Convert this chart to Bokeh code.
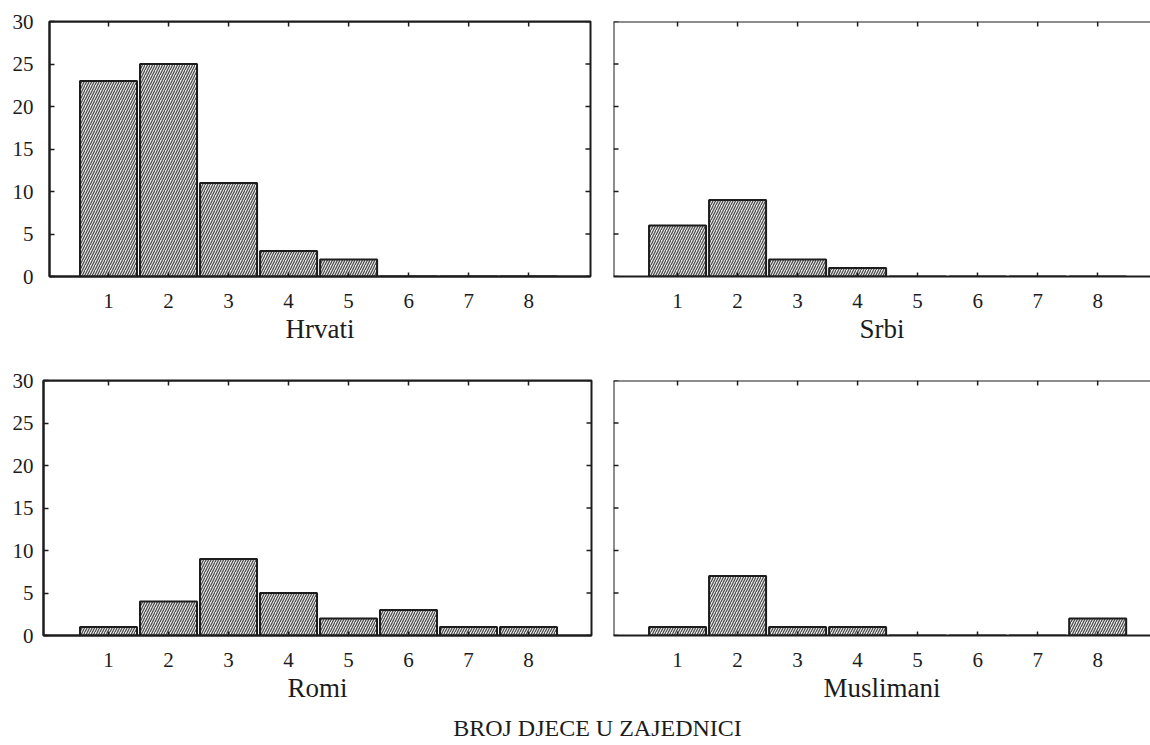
import math
from bokeh.plotting import figure
from bokeh.models import Range1d, FixedTicker, Span, Label
from bokeh.layouts import column, row
from bokeh.embed import file_html
from bokeh.resources import INLINE

# ---- data ----
children = [1, 2, 3, 4, 5, 6, 7, 8]
hrvati = [23, 25, 11, 3, 2, 0, 0, 0]
srbi = [6, 9, 2, 1, 0, 0, 0, 0]
romi = [1, 4, 9, 5, 2, 3, 1, 1]
muslimani = [1, 7, 1, 1, 0, 0, 0, 2]
y_ticks = [0, 5, 10, 15, 20, 25, 30]
group_names = ["Hrvati", "Srbi", "Romi", "Muslimani"]
x_title = "BROJ DJECE U ZAJEDNICI"

FONT = "Liberation Serif"
INK = "#1c1c1c"


def panel(name, vals, xr, fw, fh, bl, br, bt, bb, left_panel, ystand):
    p = figure(x_range=Range1d(*xr), y_range=Range1d(y_ticks[0], y_ticks[-1]),
               frame_width=fw, frame_height=fh,
               min_border_left=bl, min_border_right=br,
               min_border_top=bt, min_border_bottom=bb,
               y_axis_location="left" if left_panel else None,
               output_backend="svg", toolbar_location=None)
    p.grid.visible = False
    p.background_fill_color = "white"
    p.border_fill_color = "white"

    p.vbar(x=children, top=vals, bottom=0, width=0.95,
           fill_color="#e8e8e8", line_color=INK, line_width=2,
           hatch_pattern="/", hatch_color="#484848", hatch_scale=5,
           hatch_weight=1.2)

    xa = p.xaxis[0]
    xa.ticker = FixedTicker(ticks=children)
    xa.axis_line_width = 2
    xa.axis_line_color = INK
    xa.major_tick_in = 4
    xa.major_tick_out = 0
    xa.major_tick_line_width = 1.5
    xa.major_tick_line_color = INK
    xa.minor_tick_in = 0
    xa.minor_tick_out = 0
    xa.major_label_text_font = FONT
    xa.major_label_text_font_size = "21px"
    xa.major_label_text_color = INK
    xa.major_label_standoff = 17
    xa.axis_label = name
    xa.axis_label_text_font = FONT
    xa.axis_label_text_font_size = "27px"
    xa.axis_label_text_font_style = "normal"
    xa.axis_label_text_color = INK
    xa.axis_label_standoff = 3

    # top edge of the frame with inward ticks
    p.add_layout(Span(location=y_ticks[-1], dimension="width",
                      line_color=INK, line_width=2))
    p.ray(x=children, y=[y_ticks[-1]] * len(children), length=5,
          length_units="screen", angle=-math.pi / 2,
          line_color=INK, line_width=1.5)

    if left_panel:
        p.outline_line_color = INK
        p.outline_line_width = 2
        ya = p.yaxis[0]
        ya.ticker = FixedTicker(ticks=y_ticks)
        ya.axis_line_width = 2
        ya.axis_line_color = INK
        ya.major_tick_in = 5
        ya.major_tick_out = 0
        ya.major_tick_line_width = 1.5
        ya.major_tick_line_color = INK
        ya.minor_tick_in = 0
        ya.minor_tick_out = 0
        ya.major_label_text_font = FONT
        ya.major_label_text_font_size = "21px"
        ya.major_label_text_color = INK
        ya.major_label_standoff = ystand
        # right edge ticks
        p.ray(x=[xr[1]] * len(y_ticks), y=y_ticks, length=5,
              length_units="screen", angle=math.pi,
              line_color=INK, line_width=1.5)
    else:
        p.outline_line_color = None
        p.add_layout(Span(location=xr[0], dimension="height",
                          line_color=INK, line_width=2))
        p.ray(x=[xr[0]] * len(y_ticks), y=y_ticks, length=5,
              length_units="screen", angle=0,
              line_color=INK, line_width=1.5)
    return p


pA = panel(group_names[0], hrvati, (0.017, 9.03), 541, 255, 49, 11, 21, 91, True, 16)
pB = panel(group_names[1], srbi, (-0.067, 8.88), 537, 255, 12, 0, 21, 91, False, 0)
pC = panel(group_names[2], romi, (-0.083, 9.05), 548, 255, 43, 10, 13, 60, True, 10)
pD = panel(group_names[3], muslimani, (-0.067, 8.88), 537, 255, 12, 0, 13, 60, False, 0)

E_W, E_H = 1150, 36
pE = figure(width=E_W, height=E_H, output_backend="svg", toolbar_location=None,
            x_axis_location=None, y_axis_location=None,
            min_border_left=0, min_border_right=0, min_border_top=0, min_border_bottom=0)
pE.outline_line_color = None
pE.grid.visible = False
pE.add_layout(Label(x=597, y=14, x_units="screen", y_units="screen",
                    text=x_title, text_font=FONT, text_font_size="24px",
                    text_color=INK, text_align="center", text_baseline="middle"))

layout = column(row(pA, pB), row(pC, pD), pE)

with open("out.html", "w") as f:
    f.write(file_html(layout, INLINE))
